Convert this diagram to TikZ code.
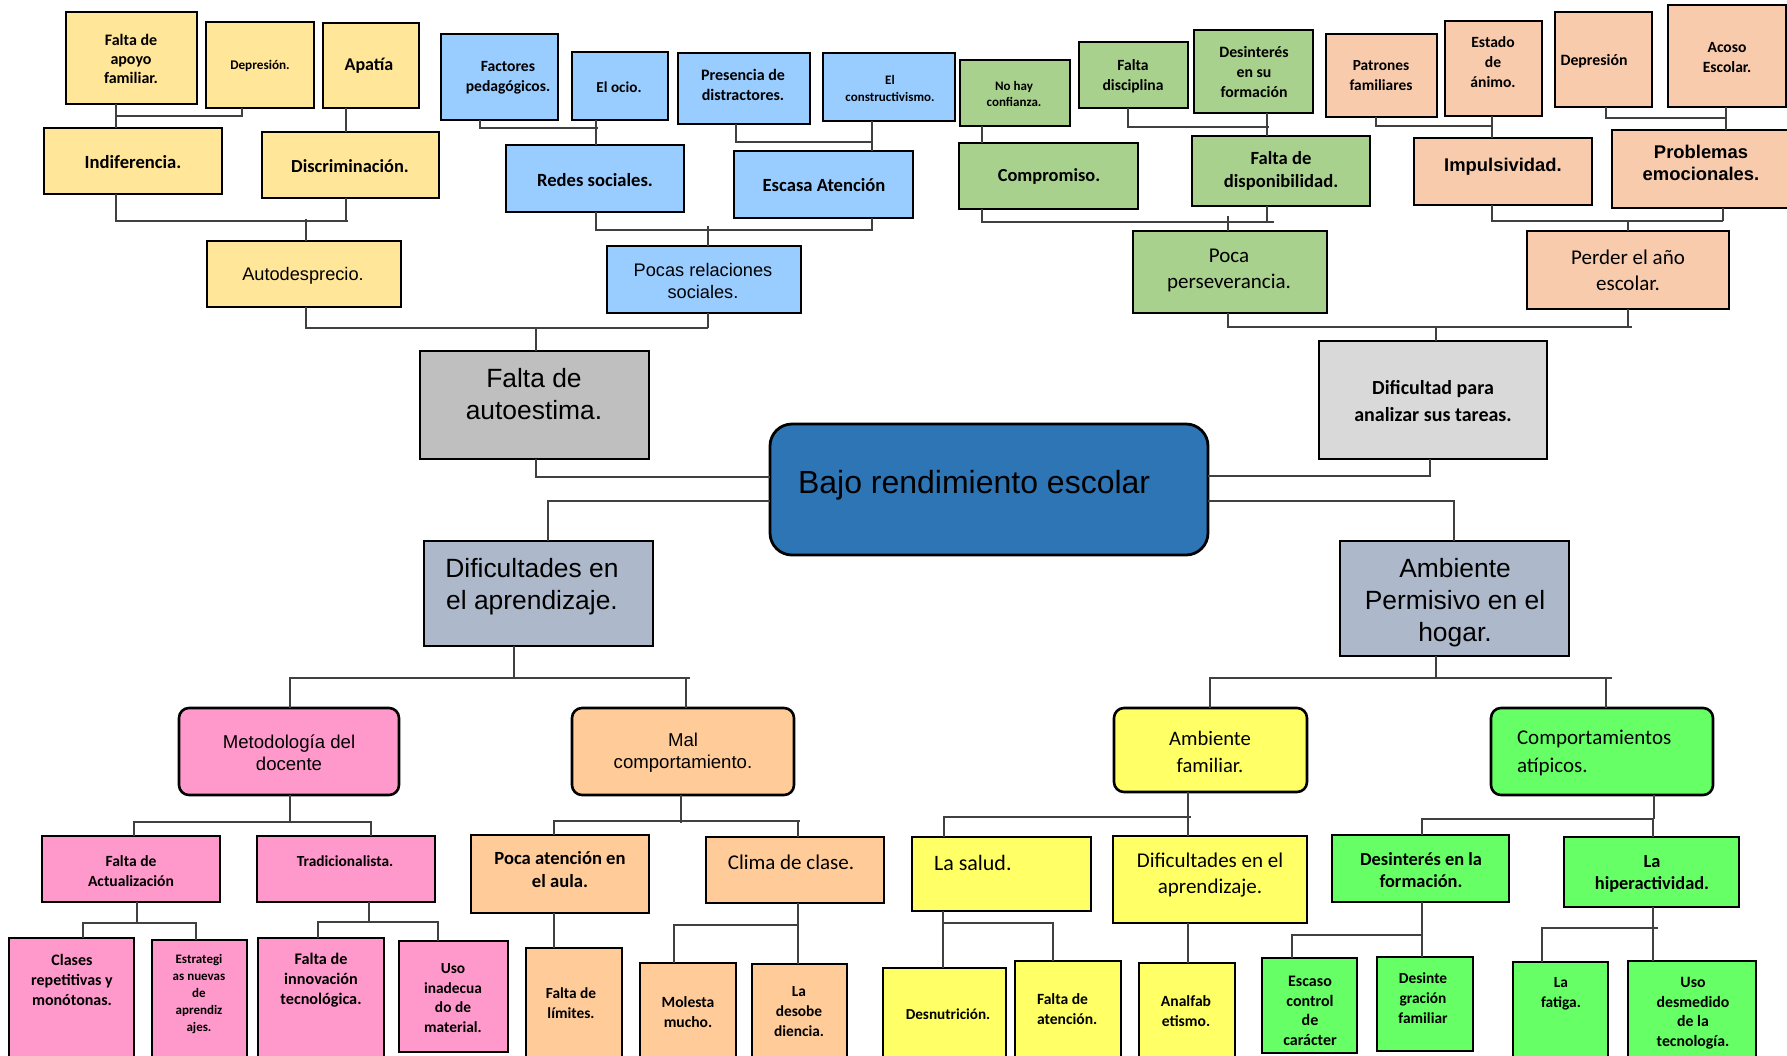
\documentclass[tikz,border=0pt]{standalone}
\usepackage{fontspec}
\newfontfamily\fcal{Carlito}
\newfontfamily\fari{Liberation Sans}
\definecolor{cYa}{HTML}{FFE699}
\definecolor{cBa}{HTML}{99CCFF}
\definecolor{cGa}{HTML}{A9D18E}
\definecolor{cPa}{HTML}{F8CBAD}
\definecolor{cGb}{HTML}{BFBFBF}
\definecolor{cGc}{HTML}{D9D9D9}
\definecolor{cBajo}{HTML}{2E75B6}
\definecolor{cSl}{HTML}{ADB9CA}
\definecolor{cPk}{HTML}{FF99CC}
\definecolor{cOr}{HTML}{FFCC99}
\definecolor{cYe}{HTML}{FFFF66}
\definecolor{cGr}{HTML}{66FF66}
\definecolor{cLn}{HTML}{404040}
\newcommand\CB[2]{\fcal\bfseries\fontsize{#1}{#2}\selectfont}
\newcommand\CR[2]{\fcal\fontsize{#1}{#2}\selectfont}
\newcommand\AR[2]{\fari\fontsize{#1}{#2}\selectfont}
\newcommand\AB[2]{\fari\bfseries\fontsize{#1}{#2}\selectfont}
\tikzset{
  box/.style={draw=black, line width=1.3pt, inner sep=0pt, outer sep=0pt, rectangle},
  rbox/.style={box, rounded corners=5pt},
  ln/.style={draw=cLn, line width=0.8pt},
  txt/.style={inner sep=0pt, outer sep=0pt, align=center, text=black},
}
% name, x1, y1, x2, y2, box style, text position, font, text
\newcommand\bx[9]{%
  \node[#6, minimum width={(#4-#2)*0.5pt}, minimum height={(#5-#3)*0.5pt}] (#1) at ({(#2+#4)/2},{(#3+#5)/2}) {};
  \node[txt, font={#8}] (#1-t) at (#7) {#9};}
\newcommand\bxl[9]{%
  \node[#6, minimum width={(#4-#2)*0.5pt}, minimum height={(#5-#3)*0.5pt}] (#1) at ({(#2+#4)/2},{(#3+#5)/2}) {};
  \node[txt, anchor=west, align=left, font={#8}] (#1-t) at (#7) {#9};}
\begin{document}
\begin{tikzpicture}[x=0.5pt,y=-0.5pt]
\useasboundingbox (0,0) rectangle (1787,1055);
\clip (0,0) rectangle (1787,1055);
\fill[white] (0,0) rectangle (1787,1055);

% ---- top-left (yellow)
\bx{apoyo}{66}{12}{197}{104}{box,fill=cYa}{131,59}{\CB{8}{9.7}}{Falta de\\apoyo\\familiar.}
\bx{depreA}{206}{22}{314}{108}{box,fill=cYa}{260,66}{\CB{6.6}{8}}{Depresión.}
\bx{apatia}{323}{23}{419}{108}{box,fill=cYa}{369,66}{\CB{9}{11}}{Apatía}
\bx{indif}{44}{128}{222}{194}{box,fill=cYa}{133,162}{\CB{9.3}{11}}{Indiferencia.}
\bx{discrim}{262}{132}{439}{198}{box,fill=cYa}{350,166}{\CB{9.2}{11}}{Discriminación.}
\bx{autodes}{207}{241}{401}{307}{box,fill=cYa}{303,276}{\AR{9.1}{11}}{Autodesprecio.}

% ---- blue
\bx{factores}{441}{34}{558}{120}{box,fill=cBa}{508,78}{\CB{7.8}{10}}{Factores\\pedagógicos.}
\bx{ocio}{572}{52}{668}{120}{box,fill=cBa}{619,87}{\CB{7.6}{10}}{El ocio.}
\bx{presencia}{678}{53}{810}{124}{box,fill=cBa}{743,85}{\CB{8}{10}}{Presencia de\\distractores.}
\bx{constr}{823}{53}{955}{121}{box,fill=cBa}{890,88}{\CB{6.5}{8.5}}{El\\constructivismo.}
\bx{redes}{506}{145}{684}{212}{box,fill=cBa}{595,180}{\CB{9.3}{11}}{Redes sociales.}
\bx{escasa}{734}{151}{913}{218}{box,fill=cBa}{824,185}{\CB{9.3}{11}}{Escasa Atención}
\bx{pocas}{607}{246}{801}{313}{box,fill=cBa}{703,281}{\AR{9.1}{11}}{Pocas relaciones\\sociales.}

% ---- green
\bx{nohay}{960}{60}{1070}{126}{box,fill=cGa}{1014,94}{\CB{6.5}{8}}{No hay\\confianza.}
\bx{discip}{1079}{42}{1188}{108}{box,fill=cGa}{1133,76}{\CB{7.8}{10}}{Falta\\disciplina}
\bx{desintA}{1194}{30}{1313}{113}{box,fill=cGa}{1254,72}{\CB{7.9}{9.8}}{Desinterés\\en su\\formación}
\bx{compro}{959}{143}{1138}{209}{box,fill=cGa}{1049,176}{\CB{9.2}{11}}{Compromiso.}
\bx{dispon}{1192}{136}{1370}{206}{box,fill=cGa}{1281,171}{\CB{9.3}{11.5}}{Falta de\\disponibilidad.}
\bx{persev}{1133}{231}{1327}{313}{box,fill=cGa}{1229,270}{\CR{10.5}{13}}{Poca\\perseverancia.}

% ---- peach
\bx{patron}{1326}{34}{1437}{117}{box,fill=cPa}{1381,76}{\CB{7.7}{10}}{Patrones\\familiares}
\bx{estado}{1445}{21}{1542}{116}{box,fill=cPa}{1493,62}{\CB{7.8}{9.8}}{Estado\\de\\ánimo.}
\bx{depreB}{1555}{12}{1652}{107}{box,fill=cPa}{1594,61}{\CB{7.9}{10}}{Depresión}
\bx{acoso}{1668}{5}{1786}{107}{box,fill=cPa}{1727,57}{\CB{7.8}{10}}{Acoso\\Escolar.}
\bx{impuls}{1414}{138}{1592}{205}{box,fill=cPa}{1503,167}{\AB{9.2}{11}}{Impulsividad.}
\bx{problem}{1612}{130}{1800}{208}{box,fill=cPa}{1701,163}{\AB{9.2}{11}}{Problemas\\emocionales.}
\bx{perder}{1527}{231}{1729}{309}{box,fill=cPa}{1628,270}{\CR{10.5}{13}}{Perder el año\\escolar.}

% ---- centre
\bx{autoest}{420}{351}{649}{459}{box,fill=cGb}{534,394}{\AR{13.2}{16}}{Falta de\\autoestima.}
\bx{dificul}{1319}{341}{1547}{459}{box,fill=cGc}{1433,401}{\CB{10}{13.5}}{Dificultad para\\analizar sus tareas.}
\node[box, rounded corners=11pt, line width=1.4pt, fill=cBajo, minimum width=219pt, minimum height=65.5pt] (bajo) at (989,489.5) {};
\node[txt, anchor=west, font={\AR{16}{19}}] (bajo-t) at (798,485) {Bajo rendimiento escolar};
\bx{difap}{424}{541}{653}{646}{box,fill=cSl}{532,587}{\AR{13.2}{16}}{Dificultades en\\el aprendizaje.}
\bx{ambperm}{1340}{541}{1569}{656}{box,fill=cSl}{1455,603}{\AR{13.2}{16}}{Ambiente\\Permisivo en el\\hogar.}

% ---- level 2
\bx{metod}{179}{708}{399}{795}{rbox,fill=cPk}{289,753}{\AR{9.3}{11}}{Metodología del\\docente}
\bx{malcomp}{572}{708}{794}{795}{rbox,fill=cOr}{683,753}{\AR{9.3}{11}}{Mal\\comportamiento.}
\bx{ambfam}{1114}{708}{1307}{792}{rbox,fill=cYe}{1210,752}{\CR{10.3}{13.5}}{Ambiente\\familiar.}
\bxl{comport}{1491}{708}{1713}{795}{rbox,fill=cGr}{1517,753}{\CR{10.5}{14}}{Comportamientos\\atípicos.}

% ---- level 3 / 4 left
\bx{actual}{42}{836}{220}{902}{box,fill=cPk}{131,871}{\CB{7.8}{9.8}}{Falta de\\Actualización}
\bx{tradic}{257}{836}{435}{902}{box,fill=cPk}{345,861}{\CB{7.7}{10}}{Tradicionalista.}
\bx{clases}{9}{938}{134}{1070}{box,fill=cPk}{72,980}{\CB{8}{10}}{Clases\\repetitivas y\\monótonas.}
\bx{estrat}{152}{940}{247}{1070}{box,fill=cPk}{199,994}{\CB{6.5}{8.4}}{Estrategi\\as nuevas\\de\\aprendiz\\ajes.}
\bx{innov}{258}{938}{384}{1070}{box,fill=cPk}{321,980}{\CB{8.1}{10}}{Falta de\\innovación\\tecnológica.}
\bx{usoinad}{399}{941}{508}{1052}{box,fill=cPk}{453,998}{\CB{7.7}{9.8}}{Uso\\inadecua\\do de\\material.}
\bx{pocaat}{471}{835}{649}{913}{box,fill=cOr}{560,870}{\CB{9.3}{11.5}}{Poca atención en\\el aula.}
\bx{clima}{706}{837}{884}{903}{box,fill=cOr}{791,862}{\CR{10.5}{13}}{Clima de clase.}
\bx{limites}{526}{948}{622}{1070}{box,fill=cOr}{571,1003}{\CB{7.7}{10}}{Falta de\\límites.}
\bx{molesta}{640}{963}{736}{1070}{box,fill=cOr}{688,1012}{\CB{7.8}{9.6}}{Molesta\\mucho.}
\bx{desob}{752}{964}{847}{1070}{box,fill=cOr}{799,1012}{\CB{7.7}{10}}{La\\desobe\\diencia.}

% ---- level 3 / 4 right
\bxl{salud}{912}{837}{1091}{911}{box,fill=cYe}{934,863}{\CR{11}{13}}{La salud.}
\bx{difapB}{1113}{836}{1307}{923}{box,fill=cYe}{1210,875}{\CR{10.5}{13}}{Dificultades en el\\aprendizaje.}
\bx{desnut}{883}{968}{1006}{1070}{box,fill=cYe}{948,1014}{\CB{7.6}{10}}{Desnutrición.}
\bxl{falaten}{1015}{961}{1121}{1070}{box,fill=cYe}{1037,1009}{\CB{7.8}{10}}{Falta de\\atención.}
\bx{analf}{1139}{963}{1235}{1070}{box,fill=cYe}{1186,1011}{\CB{7.8}{10}}{Analfab\\etismo.}
\bx{escaso}{1262}{958}{1357}{1053}{box,fill=cGr}{1310,1011}{\CB{8}{9.8}}{Escaso\\control\\de\\carácter}
\bx{desinf}{1332}{835}{1509}{902}{box,fill=cGr}{1421,870}{\CB{9.2}{10.8}}{Desinterés en la\\formación.}
\bx{hiper}{1564}{837}{1739}{907}{box,fill=cGr}{1652,874}{\CB{9.2}{11}}{La\\hiperactividad.}
\bx{desintg}{1377}{957}{1473}{1051}{box,fill=cGr}{1423,998}{\CB{7.7}{10}}{Desinte\\gración\\familiar}
\bx{fatiga}{1513}{962}{1608}{1070}{box,fill=cGr}{1561,994}{\CB{7.7}{9.8}}{La\\fatiga.}
\bx{usodes}{1628}{961}{1756}{1070}{box,fill=cGr}{1693,1013}{\CB{7.9}{9.8}}{Uso\\desmedido\\de la\\tecnología.}

% ================= connectors
% top-left
\draw[ln] (116,0 |- apoyo.south) -- (116,0 |- indif.north);
\draw[ln] (242,0 |- depreA.south) -- (242,116) -- (116,116);
\draw[ln] (346,0 |- apatia.south) -- (346,0 |- discrim.north);
\draw[ln] (116,0 |- indif.south) -- (116,221) -- (348,221);
\draw[ln] (346,0 |- discrim.south) -- (346,221);
\draw[ln] (306,219) -- (306,0 |- autodes.north);
\draw[ln] (306,0 |- autodes.south) -- (306,328) -- (708,328);
\draw[ln] (708,0 |- pocas.south) -- (708,328);
\draw[ln] (536,328) -- (536,0 |- autoest.north);
% blue
\draw[ln] (480,0 |- factores.south) -- (480,128) -- (598,128);
\draw[ln] (596,0 |- ocio.south) -- (596,0 |- redes.north);
\draw[ln] (736,0 |- presencia.south) -- (736,142) -- (872,142);
\draw[ln] (872,0 |- constr.south) -- (872,0 |- escasa.north);
\draw[ln] (596,0 |- redes.south) -- (596,230) -- (872,230) -- (872,0 |- escasa.south);
\draw[ln] (708,226) -- (708,0 |- pocas.north);
% green
\draw[ln] (982,0 |- nohay.south) -- (982,0 |- compro.north);
\draw[ln] (1128,0 |- discip.south) -- (1128,127) -- (1269,127);
\draw[ln] (1267,0 |- desintA.south) -- (1267,0 |- dispon.north);
\draw[ln] (982,0 |- compro.south) -- (982,222) -- (1274,222);
\draw[ln] (1267,0 |- dispon.south) -- (1267,222);
\draw[ln] (1228,216) -- (1228,0 |- persev.north);
\draw[ln] (1228,0 |- persev.south) -- (1228,327) -- (1632,327);
\draw[ln] (1628,0 |- perder.south) -- (1628,327);
\draw[ln] (1436,327) -- (1436,0 |- dificul.north);
% peach
\draw[ln] (1376,0 |- patron.south) -- (1376,126) -- (1492,126);
\draw[ln] (1492,0 |- estado.south) -- (1492,0 |- impuls.north);
\draw[ln] (1606,0 |- depreB.south) -- (1606,118) -- (1726,118);
\draw[ln] (1726,0 |- acoso.south) -- (1726,0 |- problem.north);
\draw[ln] (1492,0 |- impuls.south) -- (1492,221) -- (1723,221);
\draw[ln] (1723,0 |- problem.south) -- (1723,221);
\draw[ln] (1628,221) -- (1628,0 |- perder.north);
% centre
\draw[ln] (536,0 |- autoest.south) -- (536,477) -- (bajo.west |- 0,477);
\draw[ln] (bajo.west |- 0,501) -- (548,501) -- (548,0 |- difap.north);
\draw[ln] (1430,0 |- dificul.south) -- (1430,476) -- (bajo.east |- 0,476);
\draw[ln] (bajo.east |- 0,501) -- (1454,501) -- (1454,0 |- ambperm.north);
% lower left
\draw[ln] (514,0 |- difap.south) -- (514,678);
\draw[ln] (290,0 |- metod.north) -- (290,678) -- (690,678);
\draw[ln] (686,678) -- (686,0 |- malcomp.north);
\draw[ln] (290,0 |- metod.south) -- (290,822);
\draw[ln] (134,0 |- actual.north) -- (134,822) -- (371,822) -- (371,0 |- tradic.north);
\draw[ln] (137,0 |- actual.south) -- (137,923);
\draw[ln] (83,0 |- clases.north) -- (83,923) -- (196,923) -- (196,0 |- estrat.north);
\draw[ln] (369,0 |- tradic.south) -- (369,922);
\draw[ln] (318,0 |- innov.north) -- (318,922) -- (438,922) -- (438,0 |- usoinad.north);
\draw[ln] (681,0 |- malcomp.south) -- (681,823);
\draw[ln] (554,0 |- pocaat.north) -- (554,821) -- (800,821);
\draw[ln] (798,821) -- (798,0 |- clima.north);
\draw[ln] (554,0 |- pocaat.south) -- (554,0 |- limites.north);
\draw[ln] (798,0 |- clima.south) -- (798,0 |- desob.north);
\draw[ln] (674,0 |- molesta.north) -- (674,925) -- (798,925);
% lower right
\draw[ln] (1436,0 |- ambperm.south) -- (1436,678);
\draw[ln] (1210,0 |- ambfam.north) -- (1210,678) -- (1612,678);
\draw[ln] (1606,678) -- (1606,0 |- comport.north);
\draw[ln] (1188,0 |- ambfam.south) -- (1188,0 |- difapB.north);
\draw[ln] (944,0 |- salud.north) -- (944,817) -- (1191,817);
\draw[ln] (943,0 |- salud.south) -- (943,0 |- desnut.north);
\draw[ln] (943,923) -- (1053,923) -- (1053,0 |- falaten.north);
\draw[ln] (1188,0 |- difapB.south) -- (1188,0 |- analf.north);
\draw[ln] (1654,0 |- comport.south) -- (1654,819);
\draw[ln] (1422,0 |- desinf.north) -- (1422,819) -- (1654,819);
\draw[ln] (1653,819) -- (1653,0 |- hiper.north);
\draw[ln] (1422,0 |- desinf.south) -- (1422,0 |- desintg.north);
\draw[ln] (1292,0 |- escaso.north) -- (1292,935) -- (1422,935);
\draw[ln] (1653,0 |- hiper.south) -- (1653,0 |- usodes.north);
\draw[ln] (1542,0 |- fatiga.north) -- (1542,928) -- (1658,928);
\end{tikzpicture}
\end{document}
